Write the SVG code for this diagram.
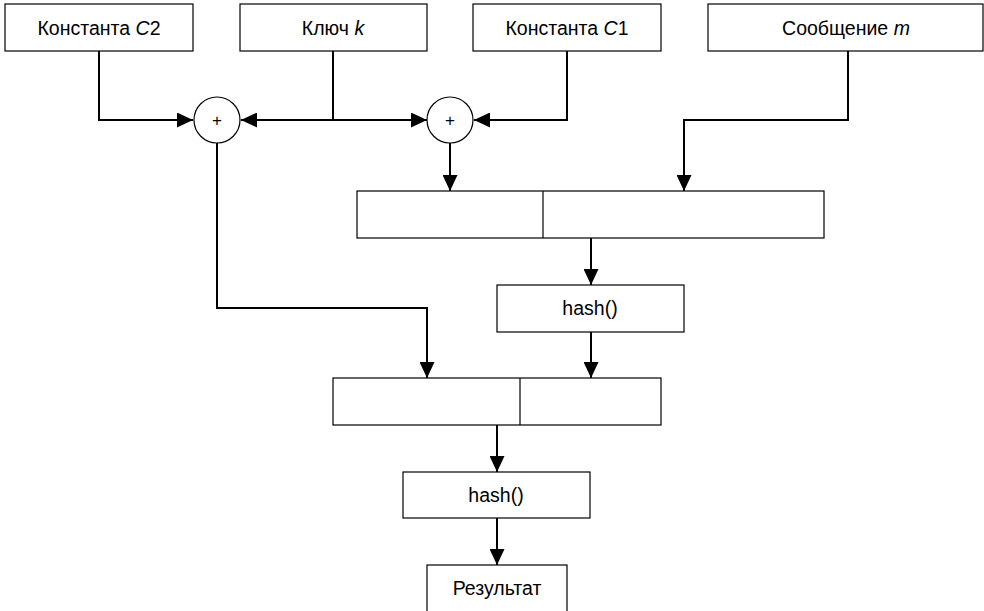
<svg xmlns="http://www.w3.org/2000/svg" width="984" height="611" viewBox="0 0 984 611">
<defs>
<marker id="ah" viewBox="0 0 16 15" refX="16" refY="7.5" markerWidth="16" markerHeight="15" markerUnits="userSpaceOnUse" orient="auto">
<path d="M0,0 L16,7.5 L0,15 Z" fill="#000"/>
</marker>
</defs>
<style>
.box{fill:#fff;stroke:#000;stroke-width:1.2}
.t{font-family:"Liberation Sans",Arial,sans-serif;font-size:19.5px;fill:#000;text-anchor:middle}
.p{font-family:"Liberation Sans",Arial,sans-serif;font-size:17px;fill:#000;text-anchor:middle}
.c{fill:none;stroke:#000;stroke-width:2}
.a{fill:none;stroke:#000;stroke-width:2;marker-end:url(#ah)}
</style>
<rect width="984" height="611" fill="#fff"/>
<g id="connectors">
<path class="a" d="M99,51 V120 H193"/>
<path class="a" d="M333,51 V120 H241"/>
<path class="a" d="M333,120 H427"/>
<path class="a" d="M567,51 V120 H474"/>
<path class="a" d="M848,51 V120 H684 V191"/>
<path class="a" d="M450,143 V191"/>
<path class="a" d="M591,238 V285"/>
<path class="a" d="M217,143 V308 H427 V378"/>
<path class="a" d="M591,332 V378"/>
<path class="a" d="M497,425 V472"/>
<path class="a" d="M497,518 V565"/>
</g>
<g id="c2"><rect class="box" x="5" y="4" width="188" height="47"/><text class="t" x="99" y="35">Константа <tspan font-style="italic">C</tspan>2</text></g>
<g id="key"><rect class="box" x="240" y="4" width="187" height="47"/><text class="t" x="333" y="35">Ключ <tspan font-style="italic">k</tspan></text></g>
<g id="c1"><rect class="box" x="473" y="4" width="188" height="47"/><text class="t" x="567" y="35">Константа <tspan font-style="italic">C</tspan>1</text></g>
<g id="msg"><rect class="box" x="708" y="4" width="275" height="47"/><text class="t" x="846" y="35">Сообщение <tspan font-style="italic">m</tspan></text></g>
<g id="sum1"><circle class="box" cx="217" cy="120" r="23"/><text class="p" x="217" y="126">+</text></g>
<g id="sum2"><circle class="box" cx="450" cy="120" r="23"/><text class="p" x="450" y="126">+</text></g>
<g id="concat1"><rect class="box" x="357" y="191" width="467" height="47"/><line class="box" x1="543" y1="191" x2="543" y2="238"/></g>
<g id="hash1"><rect class="box" x="497" y="285" width="187" height="47"/><text class="t" x="590" y="315">hash()</text></g>
<g id="concat2"><rect class="box" x="333" y="378" width="328" height="47"/><line class="box" x1="520" y1="378" x2="520" y2="425"/></g>
<g id="hash2"><rect class="box" x="403" y="472" width="187" height="46"/><text class="t" x="496" y="502">hash()</text></g>
<g id="result"><rect class="box" x="427" y="565" width="140" height="60"/><text class="t" x="497" y="595">Результат</text></g>
</svg>
